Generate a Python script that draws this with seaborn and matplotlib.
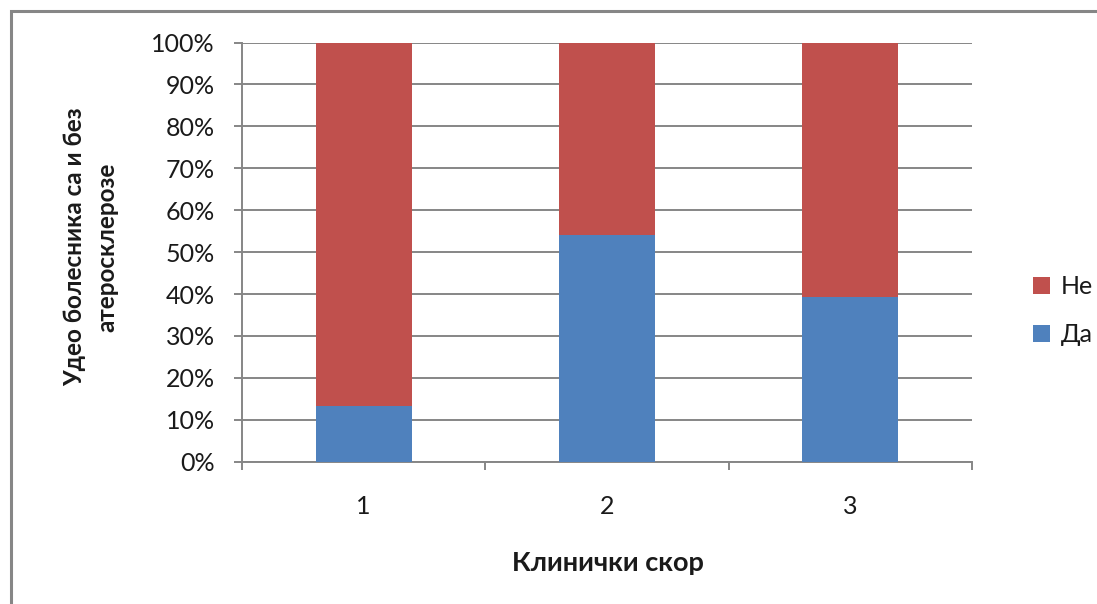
import matplotlib
matplotlib.use("Agg")
import matplotlib.pyplot as plt
from matplotlib.patches import Patch, Rectangle
from matplotlib.ticker import FixedLocator, FuncFormatter
import seaborn as sns
import pandas as pd

# Share of patients with / without atherosclerosis per clinical score
categories = ["1", "2", "3"]
da_values = [13.4, 54.0, 39.2]   # Да
ne_values = [86.6, 46.0, 60.8]   # Не
y_ticks = [0, 10, 20, 30, 40, 50, 60, 70, 80, 90, 100]

BLUE = "#4F81BD"
RED = "#C0504D"
GREY = "#868686"
TEXT = "#1a1a1a"

sns.set_theme(style="white")
plt.rcParams["font.family"] = ["Lato", "Open Sans", "DejaVu Sans"]

df = pd.DataFrame({"score": categories, "da": da_values, "ne": ne_values})
df["total"] = df["da"] + df["ne"]

fig = plt.figure(figsize=(10.97, 6.04), dpi=100)
ax = fig.add_axes([242 / 1097, 1 - 461.7 / 604, (972 - 242) / 1097, (461.7 - 42.5) / 604])

# stacked bars: full height in red, the "Да" part drawn over it in blue
sns.barplot(data=df, x="score", y="total", order=categories, color=RED,
            saturation=1, width=0.395, ax=ax, zorder=3,
            edgecolor="none", linewidth=0)
sns.barplot(data=df, x="score", y="da", order=categories, color=BLUE,
            saturation=1, width=0.395, ax=ax, zorder=4,
            edgecolor="none", linewidth=0)

ax.set_xlim(-0.5, len(categories) - 0.5)
ax.set_ylim(0, 100)
ax.set_yticks(y_ticks)
ax.yaxis.set_major_formatter(FuncFormatter(lambda v, _: f"{v:.0f}%"))
ax.grid(axis="y", color=GREY, linewidth=1.4, zorder=0)
ax.set_axisbelow(True)

for side in ("top", "right"):
    ax.spines[side].set_visible(False)
for side in ("left", "bottom"):
    ax.spines[side].set_color(GREY)
    ax.spines[side].set_linewidth(1.4)

ax.tick_params(axis="y", which="major", direction="out", length=5.5, width=1.4,
               color=GREY, left=True, pad=14, labelsize=18, labelcolor=TEXT)
ax.tick_params(axis="x", which="major", length=0, pad=24, labelsize=18,
               labelcolor=TEXT)
ax.xaxis.set_minor_locator(FixedLocator([i - 0.5 for i in range(len(categories) + 1)]))
ax.tick_params(axis="x", which="minor", direction="out", length=6, width=1.4,
               color=GREY, bottom=True)

ax.set_xlabel("")
ax.set_ylabel("")
fig.text(608 / 1097, 1 - 563 / 604, "Клинички скор", ha="center", va="center",
         fontsize=19.5, fontweight="bold", color=TEXT)
fig.text(91 / 1097, 1 - 247 / 604, "Удео болесника са и без\nатеросклерозе",
         rotation=90, ha="center", va="center", multialignment="center",
         fontsize=17.5, fontweight="bold", color=TEXT, linespacing=1.5)

handles = [Patch(facecolor=RED, edgecolor="none", label="Не"),
           Patch(facecolor=BLUE, edgecolor="none", label="Да")]
fig.legend(handles=handles, loc="center left",
           bbox_to_anchor=(1010 / 1097, 1 - 311 / 604), frameon=False,
           fontsize=18, handlelength=0.68, handleheight=0.68, handletextpad=0.45,
           labelspacing=1.0, labelcolor=TEXT)

# chart border
fig.add_artist(Rectangle((11 / 1097, -0.2), 1.5, 1.2 - 11 / 604,
                         transform=fig.transFigure, fill=False,
                         edgecolor=GREY, linewidth=2.2))

fig.savefig("out.png", dpi=100, facecolor="white")
